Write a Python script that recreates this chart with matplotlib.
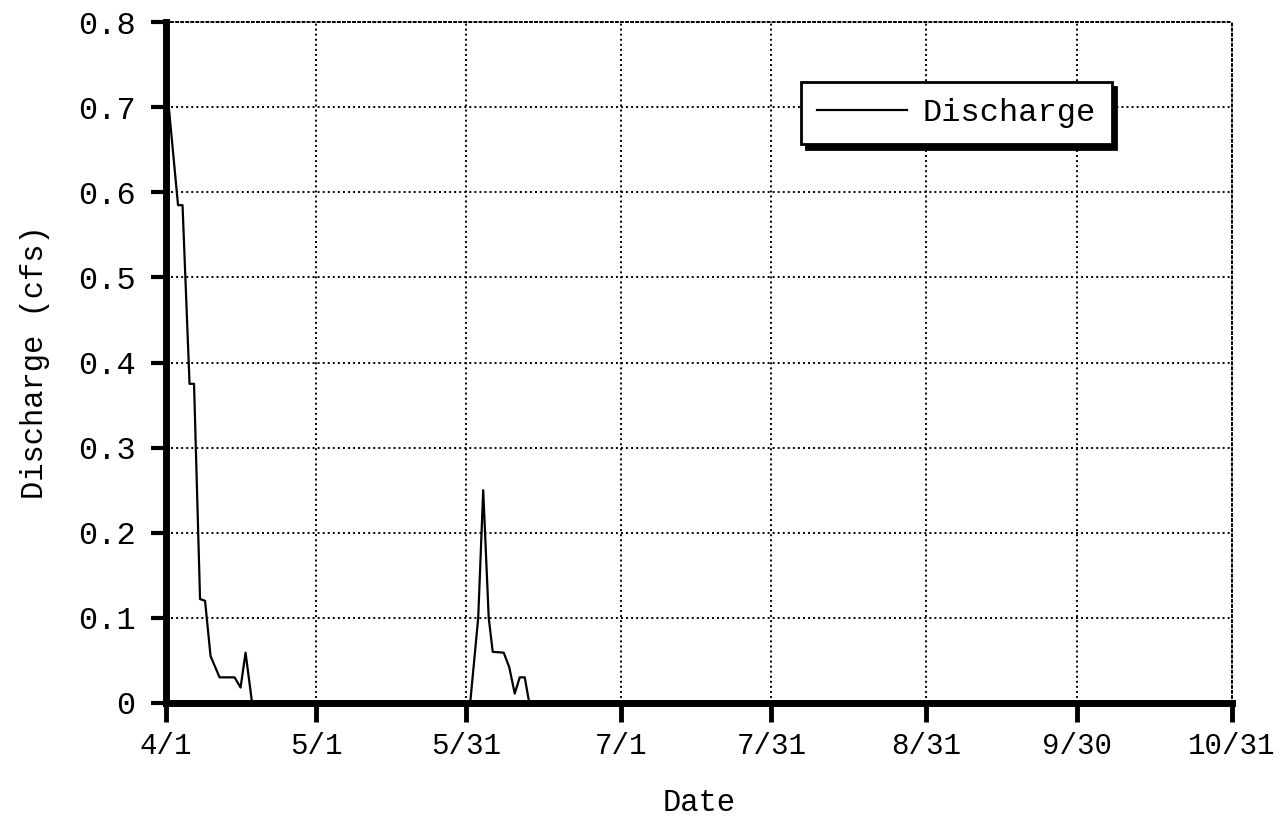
import matplotlib
matplotlib.use("Agg")
import matplotlib.pyplot as plt

# days since 4/1 and measured discharge (cfs)
days = [0.4, 2.4, 3.3, 4.7, 5.6, 6.8, 7.8, 8.9, 10.7, 13.7, 14.9, 15.9, 17.2,
        60.8, 62.4, 63.4, 64.5, 65.3, 67.5, 68.6, 69.7, 70.7, 71.7, 72.6, 213]
discharge = [0.71, 0.585, 0.585, 0.375, 0.375, 0.122, 0.12, 0.055, 0.03, 0.03, 0.018, 0.059, 0,
             0, 0.10, 0.25, 0.10, 0.06, 0.059, 0.042, 0.011, 0.03, 0.03, 0, 0]

tick_days = [0, 30, 60, 91, 121, 152, 182, 213]
tick_labels = ["4/1", "5/1", "5/31", "7/1", "7/31", "8/31", "9/30", "10/31"]
y_ticks = [0, 0.1, 0.2, 0.3, 0.4, 0.5, 0.6, 0.7, 0.8]
y_labels = ["0", "0.1", "0.2", "0.3", "0.4", "0.5", "0.6", "0.7", "0.8"]

plt.rcParams["font.family"] = ["Liberation Mono", "DejaVu Sans Mono"]

fig = plt.figure(figsize=(12.87, 8.24), dpi=100)
ax = fig.add_axes([0.129, 0.147, 0.828, 0.826])

ax.plot(days, discharge, color="black", linewidth=1.6, label="Discharge")

ax.set_xlim(0, 213)
ax.set_ylim(0, 0.8)
ax.set_xticks(tick_days)
ax.set_xticklabels(tick_labels, fontsize=21)
ax.set_yticks(y_ticks)
ax.set_yticklabels(y_labels, fontsize=23)

# dotted grid
ax.grid(True, color="black", linestyle=(0, (1, 1.6)), linewidth=1.4)
ax.set_axisbelow(True)

# thick left/bottom axes, dotted top/right
for s in ["left", "bottom"]:
    ax.spines[s].set_linewidth(5)
for s in ["top", "right"]:
    ax.spines[s].set_linestyle((0, (1, 1.6)))
    ax.spines[s].set_linewidth(1.4)

ax.tick_params(axis="x", direction="out", length=14, width=3.5, pad=7)
ax.tick_params(axis="y", direction="out", length=11, width=3, pad=11)

ax.set_xlabel("Date", fontsize=22, labelpad=20)
ax.set_ylabel("Discharge (cfs)", fontsize=22, labelpad=20)

leg = ax.legend(loc="center", bbox_to_anchor=(0.742, 0.866), fontsize=23,
                fancybox=False, handlelength=2.8, handletextpad=0.5, borderpad=0.5,
                shadow={"color": "black", "alpha": 1, "ox": 3, "oy": -3})
leg.get_frame().set_edgecolor("black")
leg.get_frame().set_linewidth(2)
leg.get_frame().set_alpha(1)

plt.savefig("out.png", dpi=100)
